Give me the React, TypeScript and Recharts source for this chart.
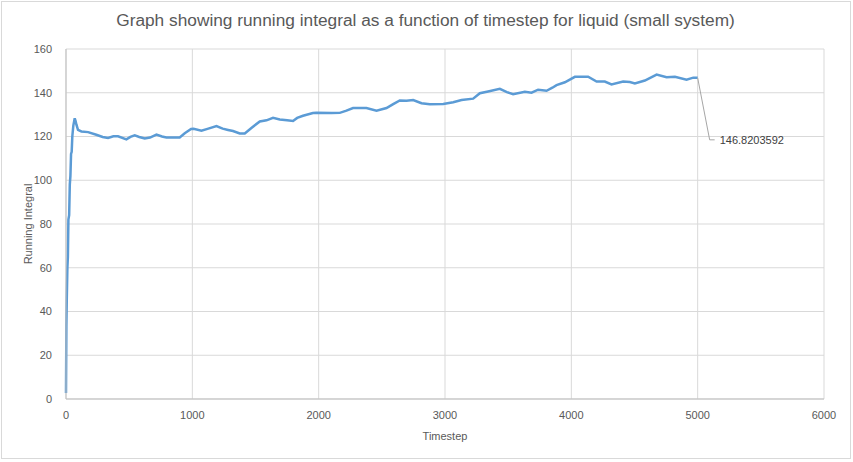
import React from 'react';
import { LineChart, Line, XAxis, YAxis, CartesianGrid } from 'recharts';

const timesteps = [
  0, 3, 6, 11, 15, 19, 25, 30, 35, 40, 45, 50, 58, 69, 76, 82, 95, 122, 175, 240,
  290, 333, 375, 412, 478, 510, 544, 580, 623, 665, 716, 760, 795, 900, 940, 990,
  1010, 1072, 1120, 1191, 1240, 1283, 1322, 1375, 1415, 1470, 1534, 1587, 1639,
  1692, 1750, 1797, 1830, 1876, 1955, 1982, 2101, 2167, 2220, 2272, 2378, 2458,
  2537, 2590, 2642, 2695, 2748, 2814, 2880, 2986, 3065, 3131, 3223, 3276, 3341,
  3434, 3490, 3539, 3632, 3685, 3737, 3804, 3850, 3883, 3949, 4028, 4133, 4200,
  4265, 4318, 4410, 4463, 4503, 4582, 4675, 4754, 4820, 4912, 4965, 5000,
];

const integral = [
  2.7, 33, 45, 60, 65, 82, 84, 98, 102, 112, 113, 120, 125, 128.3, 127, 125.5, 123,
  122.3, 122, 120.8, 119.8, 119.3, 120.1, 120.1, 118.7, 119.8, 120.5, 119.8, 119.1,
  119.5, 120.9, 120, 119.6, 119.6, 121.5, 123.4, 123.5, 122.6, 123.5, 124.8, 123.6,
  123, 122.5, 121.4, 121.4, 124, 126.9, 127.4, 128.5, 127.8, 127.4, 127.1, 128.5,
  129.5, 130.7, 130.9, 130.7, 130.8, 131.8, 133, 133, 131.8, 133, 134.8, 136.5,
  136.4, 136.7, 135.2, 134.8, 134.9, 135.7, 136.7, 137.3, 139.8, 140.6, 141.8,
  140.3, 139.3, 140.5, 140, 141.4, 140.9, 142.3, 143.5, 144.8, 147.3, 147.3, 145.1,
  145.1, 143.8, 145.1, 144.9, 144.3, 145.6, 148.3, 147.1, 147.3, 146, 146.9,
  146.8203592,
];

const xTicks = [0, 1000, 2000, 3000, 4000, 5000, 6000];
const yTicks = [0, 20, 40, 60, 80, 100, 120, 140, 160];

const data = timesteps.map((t, i) => ({ t, v: integral[i] }));

const FONT = '"Liberation Sans", Arial, sans-serif';

// Excel-style data label with a leader line, only on the last point
const EndLabel = (props: any) => {
  const { x, y, index, value } = props;
  if (index !== data.length - 1) return null;
  return (
    <g>
      <polyline
        points={`${x},${y} ${x + 12},${y + 62} ${x + 17},${y + 62}`}
        fill="none"
        stroke="#a6a6a6"
        strokeWidth={1}
      />
      <text x={x + 22} y={y + 66} fontSize={11} fill="#404040" fontFamily={FONT}>
        {value}
      </text>
    </g>
  );
};

export default function App() {
  return (
    <div style={{ position: 'absolute', left: 0, top: 0, width: 853, height: 462, background: '#fff' }}>
      <div
        style={{
          position: 'absolute',
          left: 1,
          top: 1,
          width: 848,
          height: 456,
          border: '1px solid #d9d9d9',
        }}
      />
      <div
        style={{
          position: 'absolute',
          left: 0,
          top: 10,
          width: 851,
          textAlign: 'center',
          fontFamily: FONT,
          fontSize: 17.3,
          color: '#595959',
        }}
      >
        Graph showing running integral as a function of timestep for liquid (small system)
      </div>
      <div
        style={{
          position: 'absolute',
          left: 28,
          top: 224,
          transform: 'translate(-50%, -50%) rotate(-90deg)',
          whiteSpace: 'nowrap',
          fontFamily: FONT,
          fontSize: 11,
          color: '#595959',
        }}
      >
        Running Integral
      </div>
      <div
        style={{
          position: 'absolute',
          left: 445,
          top: 436,
          transform: 'translate(-50%, -50%)',
          fontFamily: FONT,
          fontSize: 11,
          color: '#595959',
        }}
      >
        Timestep
      </div>
      <LineChart
        width={853}
        height={462}
        data={data}
        margin={{ top: 49, right: 29, bottom: 33, left: 26 }}
        style={{ position: 'absolute', left: 0, top: 0 }}
      >
        <CartesianGrid stroke="#d9d9d9" strokeWidth={1} />
        <XAxis
          dataKey="t"
          type="number"
          domain={[0, 6000]}
          ticks={xTicks}
          interval={0}
          tickLine={false}
          axisLine={{ stroke: '#bfbfbf' }}
          tick={{ fill: '#595959', fontSize: 11, fontFamily: FONT }}
          tickMargin={6}
          height={30}
        />
        <YAxis
          type="number"
          domain={[0, 160]}
          ticks={yTicks}
          interval={0}
          tickLine={false}
          axisLine={{ stroke: '#bfbfbf' }}
          tick={{ fill: '#595959', fontSize: 11, fontFamily: FONT }}
          tickMargin={8}
          width={40}
        />
        <Line
          dataKey="v"
          type="linear"
          stroke="#5b9bd5"
          strokeWidth={2.5}
          dot={false}
          isAnimationActive={false}
          label={<EndLabel />}
        />
      </LineChart>
    </div>
  );
}
